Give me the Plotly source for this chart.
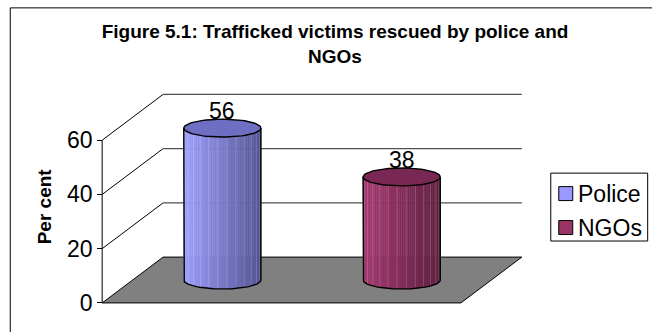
import numpy as np
import plotly.graph_objects as go

# ---- data -------------------------------------------------------------
categories = ["Police", "NGOs"]
values = [56, 38]
tick_values = [0, 20, 40, 60]
axis_title = "Per cent"
chart_title = "Figure 5.1: Trafficked victims rescued by police and<br>NGOs"

# ---- styling ----------------------------------------------------------
FONT = "Arial, 'Liberation Sans', Helvetica, sans-serif"
styles = {
    "Police": dict(light=(160, 160, 255), dark=(84, 84, 148), top=(110, 110, 194), legend="#9999FF"),
    "NGOs": dict(light=(166, 58, 114), dark=(96, 30, 64), top=(120, 40, 82), legend="#993366"),
}

# oblique projection of the 3-D plot box: depth shifts right and up
DX = 0.34        # depth shift, category units
DY = 16.9        # depth shift, value units
RX = 0.215       # cylinder radius, category units
RY = 3.3         # apparent half-height of the cylinder ellipses, value units

# figure geometry (pixels)
W, H = 652, 332
X0_PX, X_SCALE = 102.0, 179.5     # pixel of x=0 and pixels per category
Y0_PX, Y_SCALE = 303.0, 2.7167    # pixel of value 0 and pixels per value unit
XR = [-0.04, 2.38]
YR = [-1.5, 78.5]
ML = X0_PX + XR[0] * X_SCALE
MR = W - (X0_PX + XR[1] * X_SCALE)
MT = Y0_PX - YR[1] * Y_SCALE
MB = H - (Y0_PX - YR[0] * Y_SCALE)
PW = W - ML - MR
PH = H - MT - MB

# legend box (pixels)
LEG_LEFT, LEG_RIGHT, LEG_TOP, LEG_BOTTOM = 551, 648, 173, 241
LEG_ROW0, LEG_ROW_STEP = 193.5, 34
SWATCH = 14


def px_to_paper_x(px):
    return (px - ML) / PW


def px_to_paper_y(py):
    return (H - MB - py) / PH


def rgb(c):
    return "rgb({},{},{})".format(*[int(round(v)) for v in c])


def mix(a, b, u):
    return tuple(a[j] + (b[j] - a[j]) * u for j in range(3))


fig = go.Figure()
n_cat = len(categories)
top_tick = max(tick_values)

# floor
fig.add_trace(go.Scatter(
    x=[0, n_cat, n_cat + DX, DX, 0], y=[0, 0, DY, DY, 0],
    mode="lines", fill="toself", fillcolor="#808080",
    line=dict(color="black", width=1), hoverinfo="skip", showlegend=False))

# side wall diagonals and back wall gridlines
diag_x, diag_y, back_x, back_y = [], [], [], []
for v in tick_values[1:]:
    diag_x += [0, DX, None]
    diag_y += [v, v + DY, None]
    back_x += [DX, n_cat + DX, None]
    back_y += [v + DY, v + DY, None]
fig.add_trace(go.Scatter(x=diag_x, y=diag_y, mode="lines",
                         line=dict(color="black", width=1),
                         hoverinfo="skip", showlegend=False))
fig.add_trace(go.Scatter(x=back_x, y=back_y, mode="lines",
                         line=dict(color="#505050", width=1.2),
                         hoverinfo="skip", showlegend=False))

# front value axis line
fig.add_trace(go.Scatter(x=[0, 0], y=[0, top_tick], mode="lines",
                         line=dict(color="black", width=1),
                         hoverinfo="skip", showlegend=False))

# cylinders: smooth left-to-right shading, faint facet edges, dark outline
N_STRIPS = 40
N_FACETS = 13
annotations = []
shapes = []
for i, (cat, val) in enumerate(zip(categories, values)):
    st = styles[cat]
    cx = i + 0.5 + DX / 2
    base = DY / 2
    top = val + DY / 2
    xl = cx - RX
    edges = np.linspace(xl, cx + RX, N_STRIPS + 1)
    for k in range(N_STRIPS):
        xa, xb = edges[k], edges[k + 1]
        xs_arc = np.linspace(xb, xa, 4)
        ys_arc = base - RY * np.sqrt(np.clip(1 - ((xs_arc - cx) / RX) ** 2, 0, 1))
        xs = [xa, xb] + list(xs_arc) + [xa]
        ys = [top, top] + list(ys_arc) + [top]
        u = ((xa + xb) / 2 - xl) / (2 * RX)
        col = rgb(mix(st["light"], st["dark"], u))
        fig.add_trace(go.Scatter(x=xs, y=ys, mode="lines", fill="toself",
                                 fillcolor=col, line=dict(color=col, width=0.5),
                                 hoverinfo="skip", showlegend=False))
    # facet edges (equal angular steps on the front half)
    th = np.linspace(np.pi, 0, N_FACETS + 1)[1:-1]
    fx, fy = [], []
    for t in th:
        x = cx + RX * np.cos(t)
        fx += [x, x, None]
        fy += [top, base - RY * np.sin(t), None]
    fig.add_trace(go.Scatter(x=fx, y=fy, mode="lines",
                             line=dict(color="rgba(255,255,255,0.22)", width=0.8),
                             hoverinfo="skip", showlegend=False))
    # top face
    te = np.linspace(0, 2 * np.pi, 73)
    fig.add_trace(go.Scatter(x=cx + RX * np.cos(te), y=top + RY * np.sin(te),
                             mode="lines", fill="toself", fillcolor=rgb(st["top"]),
                             line=dict(color="black", width=1.4),
                             hoverinfo="skip", showlegend=False))
    # silhouette
    tb = np.linspace(np.pi, 0, 41)
    ox = [cx - RX, cx - RX] + list(cx + RX * np.cos(tb)) + [cx + RX]
    oy = [top, base] + list(base - RY * np.sin(tb)) + [top]
    fig.add_trace(go.Scatter(x=ox, y=oy, mode="lines",
                             line=dict(color="black", width=1.4),
                             hoverinfo="skip", showlegend=False))
    annotations.append(dict(x=cx, y=top + RY, xref="x", yref="y",
                            text=str(val), showarrow=False,
                            yanchor="bottom", yshift=-7,
                            font=dict(family=FONT, size=23, color="black")))

    # legend row: swatch + label
    row_y = LEG_ROW0 + i * LEG_ROW_STEP
    sw_x0 = LEG_LEFT + 8
    shapes.append(dict(type="rect", xref="paper", yref="paper",
                       x0=px_to_paper_x(sw_x0), x1=px_to_paper_x(sw_x0 + SWATCH),
                       y0=px_to_paper_y(row_y + SWATCH / 2),
                       y1=px_to_paper_y(row_y - SWATCH / 2),
                       fillcolor=st["legend"], line=dict(color="black", width=1)))
    annotations.append(dict(x=px_to_paper_x(LEG_LEFT + 25), y=px_to_paper_y(row_y),
                            xref="paper", yref="paper", text=cat,
                            showarrow=False, xanchor="left", yanchor="middle",
                            font=dict(family=FONT, size=23, color="black")))

# legend frame
shapes.insert(0, dict(type="rect", xref="paper", yref="paper",
                      x0=px_to_paper_x(LEG_LEFT), x1=px_to_paper_x(LEG_RIGHT),
                      y0=px_to_paper_y(LEG_BOTTOM), y1=px_to_paper_y(LEG_TOP),
                      fillcolor="white", line=dict(color="black", width=1)))

# outer chart border
shapes.insert(0, dict(type="rect", xref="paper", yref="paper",
                      x0=px_to_paper_x(10), x1=px_to_paper_x(700),
                      y0=px_to_paper_y(400), y1=px_to_paper_y(7.5),
                      line=dict(color="black", width=1), fillcolor="rgba(0,0,0,0)",
                      layer="below"))

annotations.append(dict(x=px_to_paper_x(44), y=px_to_paper_y(206),
                        xref="paper", yref="paper", text="<b>" + axis_title + "</b>",
                        textangle=-90, showarrow=False,
                        xanchor="center", yanchor="middle",
                        font=dict(family=FONT, size=19, color="black")))

fig.update_layout(
    width=W, height=H, autosize=False, showlegend=False,
    margin=dict(l=ML, r=MR, t=MT, b=MB, pad=0),
    paper_bgcolor="white", plot_bgcolor="white",
    title=dict(text="<b>" + chart_title + "</b>", x=335 / W, xanchor="center",
               xref="container", yref="container", y=1 - 38 / H, yanchor="top",
               font=dict(family=FONT, size=19, color="black")),
    xaxis=dict(range=XR, type="linear", visible=False, fixedrange=True),
    yaxis=dict(range=YR, tickvals=tick_values, ticks="outside", ticklen=5,
               tickcolor="black", tickwidth=1, showgrid=False, zeroline=False,
               showline=False, anchor="free", position=px_to_paper_x(X0_PX),
               tickfont=dict(family=FONT, size=23, color="black"),
               fixedrange=True),
    annotations=annotations,
    shapes=shapes,
)

fig.write_html("out.html")
